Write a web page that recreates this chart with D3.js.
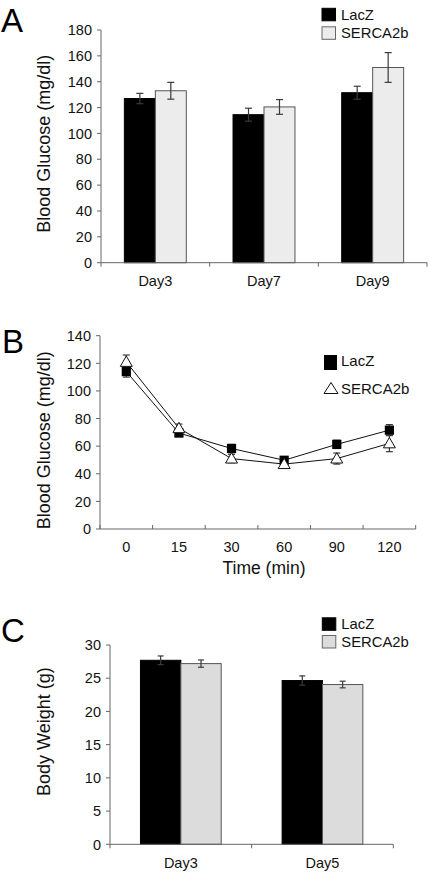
<!DOCTYPE html>
<html>
<head>
<meta charset="utf-8">
<script src="https://cdn.jsdelivr.net/npm/d3@7"></script>
<style>
  html, body { margin: 0; padding: 0; background: #fff; }
  svg { display: block; font-family: "Liberation Sans", Arial, sans-serif; }
</style>
</head>
<body>
<svg id="chart" width="429" height="873"></svg>
<script>
// ---------- Data ----------
const seriesNames = ["LacZ", "SERCA2b"];

// Panel A: Blood glucose bars
const daysA = ["Day3", "Day7", "Day9"];
const lacZA = [127, 114.5, 131.5];
const lacZAErr = [4, 5, 5];
const sercaA = [133, 120.5, 151];
const sercaAErr = [6.5, 5.7, 11.5];
const ticksA = [0, 20, 40, 60, 80, 100, 120, 140, 160, 180];

// Panel B: glucose tolerance lines
const timesB = ["0", "15", "30", "60", "90", "120"];
const lacZB = [114, 69.5, 58.3, 49.8, 61.3, 71.6];
const lacZBErr = [4, 2.5, 3, 2, 3, 4];
const sercaB = [121, 73, 51, 47, 51, 62];
const sercaBErr = [5, 3, 3, 2, 4, 6];
const ticksB = [0, 20, 40, 60, 80, 100, 120, 140];

// Panel C: body weight bars
const daysC = ["Day3", "Day5"];
const lacZC = [27.7, 24.65];
const lacZCErr = [0.65, 0.7];
const sercaC = [27.2, 24.05];
const sercaCErr = [0.55, 0.5];
const ticksC = [0, 5, 10, 15, 20, 25, 30];

// ---------- Drawing ----------
const svg = d3.select("#chart");
const AXIS = "#666";
const ERR = "#3a3a3a";
const FONT = 14.5;

function yAxis(g, y, ticks, x0) {
  g.append("line").attr("x1", x0).attr("x2", x0)
    .attr("y1", y(ticks[0])).attr("y2", y(ticks[ticks.length - 1]))
    .attr("stroke", AXIS).attr("stroke-width", 1);
  ticks.forEach(t => {
    g.append("line").attr("x1", x0 - 4).attr("x2", x0).attr("y1", y(t)).attr("y2", y(t))
      .attr("stroke", AXIS).attr("stroke-width", 1);
    g.append("text").attr("x", x0 - 9).attr("y", y(t)).attr("dy", "0.36em")
      .attr("text-anchor", "end").attr("font-size", FONT).attr("fill", "#111").text(t);
  });
}

function xAxisBoundaries(g, n, x1, x2, yPos, dir) {
  const xb = d3.scaleLinear().domain([0, n]).range([x1, x2]);
  g.append("line").attr("x1", x1).attr("x2", x2).attr("y1", yPos).attr("y2", yPos)
    .attr("stroke", AXIS).attr("stroke-width", 1);
  d3.range(n + 1).forEach(i => {
    g.append("line").attr("x1", xb(i)).attr("x2", xb(i))
      .attr("y1", yPos).attr("y2", yPos + 4 * dir)
      .attr("stroke", AXIS).attr("stroke-width", 1);
  });
}

function errBar(g, x, yTop, yBot, cap) {
  g.append("line").attr("x1", x).attr("x2", x).attr("y1", yTop).attr("y2", yBot)
    .attr("stroke", ERR).attr("stroke-width", 1.2);
  [yTop, yBot].forEach(yy => g.append("line").attr("x1", x - cap / 2).attr("x2", x + cap / 2)
    .attr("y1", yy).attr("y2", yy).attr("stroke", ERR).attr("stroke-width", 1.2));
}

function yTitle(g, text, x, cy) {
  g.append("text").attr("transform", `translate(${x},${cy}) rotate(-90)`)
    .attr("text-anchor", "middle").attr("font-size", 18).attr("fill", "#111").text(text);
}

function panelLetter(g, letter, x, y) {
  g.append("text").attr("x", x).attr("y", y).attr("font-size", 33)
    .attr("fill", "#000").text(letter);
}

function barPanel(opts) {
  const g = svg.append("g");
  const { cats, a, aErr, b, bErr, ticks, x1, x2, yTopPx, yZeroPx, lightFill, labelOff, cap } = opts;
  const y = d3.scaleLinear().domain([0, ticks[ticks.length - 1]]).range([yZeroPx, yTopPx]);
  const x0 = d3.scaleBand().domain(cats).range([x1, x2]).paddingInner(0.43).paddingOuter(0.215);
  const x1s = d3.scaleBand().domain(seriesNames).range([0, x0.bandwidth()]);
  const vals = [a, b], errs = [aErr, bErr], fills = ["#000", lightFill];
  const strokes = ["#000", "#555"];

  cats.forEach((c, i) => {
    seriesNames.forEach((s, j) => {
      const xx = x0(c) + x1s(s);
      g.append("rect").attr("x", xx).attr("y", y(vals[j][i]))
        .attr("width", x1s.bandwidth()).attr("height", yZeroPx - y(vals[j][i]))
        .attr("fill", fills[j]).attr("stroke", strokes[j]).attr("stroke-width", 1);
    });
  });
  cats.forEach((c, i) => {
    seriesNames.forEach((s, j) => {
      const cx = x0(c) + x1s(s) + x1s.bandwidth() / 2;
      const v = vals[j][i], e = errs[j][i];
      errBar(g, cx, y(v + e), y(v - e), cap);
    });
  });
  yAxis(g, y, ticks, x1);
  xAxisBoundaries(g, cats.length, x1, x2, yZeroPx, 1);
  cats.forEach(c => {
    g.append("text").attr("x", x0(c) + x0.bandwidth() / 2).attr("y", yZeroPx + labelOff)
      .attr("text-anchor", "middle").attr("font-size", FONT).attr("fill", "#111").text(c);
  });
  return g;
}

function barLegend(g, x, y1, y2, lightFill) {
  const fills = ["#000", lightFill], strokes = ["#000", "#666"];
  [y1, y2].forEach((yy, j) => {
    g.append("rect").attr("x", x).attr("y", yy).attr("width", 13.5).attr("height", 12.5)
      .attr("fill", fills[j]).attr("stroke", strokes[j]).attr("stroke-width", 1);
    g.append("text").attr("x", x + 19).attr("y", yy + 11.3).attr("font-size", 14.8)
      .attr("fill", "#111").text(seriesNames[j]);
  });
}

// ---- Panel A ----
const gA = barPanel({ cats: daysA, a: lacZA, aErr: lacZAErr, b: sercaA, bErr: sercaAErr,
  ticks: ticksA, x1: 101, x2: 427, yTopPx: 30, yZeroPx: 262.7, lightFill: "#ececec", labelOff: 23.5, cap: 7 });
barLegend(gA, 322, 8.3, 26.8, "#ececec");
yTitle(gA, "Blood Glucose (mg/dl)", 50, 143.7);
panelLetter(gA, "A", 1, 32);

// ---- Panel B ----
(function () {
  const g = svg.append("g");
  const y = d3.scaleLinear().domain([0, 140]).range([529, 335.7]);
  const x = d3.scaleBand().domain(timesB).range([100, 415.7]);
  const cx = d => x(d) + x.bandwidth() / 2;
  yAxis(g, y, ticksB, 100);
  xAxisBoundaries(g, timesB.length, 100, 415.7, 529, -1);
  timesB.forEach(t => g.append("text").attr("x", cx(t)).attr("y", 551.7)
    .attr("text-anchor", "middle").attr("font-size", FONT).attr("fill", "#111").text(t));
  g.append("text").attr("x", 264).attr("y", 574).attr("text-anchor", "middle")
    .attr("font-size", 17.5).attr("fill", "#111").text("Time (min)");

  const line = d3.line().x((d, i) => cx(timesB[i])).y(d => y(d));
  [lacZB, sercaB].forEach(s => g.append("path").attr("d", line(s))
    .attr("fill", "none").attr("stroke", "#111").attr("stroke-width", 1));

  // error bars
  [[lacZB, lacZBErr], [sercaB, sercaBErr]].forEach(([v, e]) => {
    v.forEach((d, i) => errBar(g, cx(timesB[i]), y(d + e[i]), y(d - e[i]), 7));
  });
  // markers
  const sq = d3.symbol().type(d3.symbolSquare).size(85);
  const tri = d3.symbol().type(d3.symbolTriangle).size(62);
  lacZB.forEach((d, i) => g.append("path").attr("d", sq())
    .attr("transform", `translate(${cx(timesB[i])},${y(d)})`).attr("fill", "#000"));
  sercaB.forEach((d, i) => g.append("path").attr("d", tri())
    .attr("transform", `translate(${cx(timesB[i])},${y(d) + 1})`)
    .attr("fill", "#fff").attr("stroke", "#111").attr("stroke-width", 1));

  // legend
  g.append("rect").attr("x", 324).attr("y", 355).attr("width", 13).attr("height", 15).attr("fill", "#000");
  g.append("text").attr("x", 341).attr("y", 366.3).attr("font-size", 15).attr("fill", "#111").text(seriesNames[0]);
  g.append("path").attr("d", "M331,382.5 L338,393.5 L324,393.5 Z")
    .attr("fill", "#fff").attr("stroke", "#111").attr("stroke-width", 1);
  g.append("text").attr("x", 341).attr("y", 394.3).attr("font-size", 15).attr("fill", "#111").text(seriesNames[1]);

  yTitle(g, "Blood Glucose (mg/dl)", 50, 440.3);
  panelLetter(g, "B", 2, 352.7);
})();

// ---- Panel C ----
const gC = barPanel({ cats: daysC, a: lacZC, aErr: lacZCErr, b: sercaC, bErr: sercaCErr,
  ticks: ticksC, x1: 110, x2: 393.3, yTopPx: 645, yZeroPx: 844.3, lightFill: "#dcdcdc", labelOff: 24, cap: 6 });
barLegend(gC, 322.3, 617.8, 635.5, "#dcdcdc");
yTitle(gC, "Body Weight (g)", 50, 731.7);
panelLetter(gC, "C", 1, 642.3);
</script>
</body>
</html>
